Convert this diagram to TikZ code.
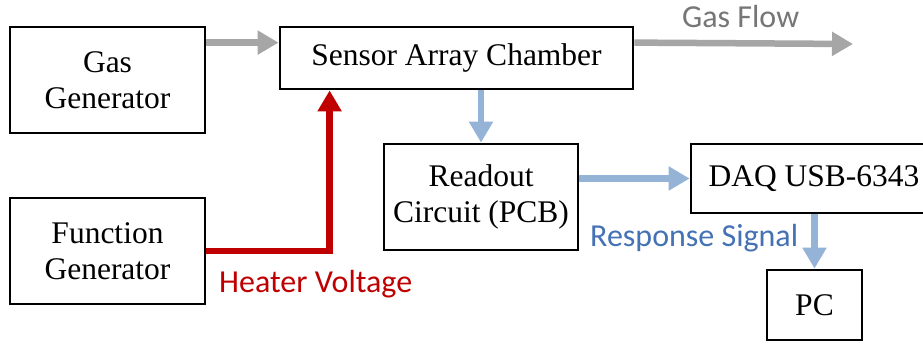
\documentclass[tikz,border=0pt]{standalone}
\usepackage{fontspec}
\setmainfont{Liberation Serif}
\newfontfamily\lblfont{Carlito}
\usetikzlibrary{arrows.meta}
\definecolor{flowgray}{HTML}{A6A6A6}
\definecolor{flowtext}{HTML}{767676}
\definecolor{sigblue}{HTML}{95B3D7}
\definecolor{sigtext}{HTML}{4472B4}
\definecolor{heatred}{HTML}{C00000}
\begin{document}
\begin{tikzpicture}[x=1pt,y=-1pt,
  box/.style={draw=black,line width=2.8pt,inner sep=0pt,align=center,
    font=\fontsize{31.5}{36}\selectfont},
  fat/.style={line width=6.5pt,-{Triangle[length=21pt,width=23pt]}},
  grayarrow/.style={fat,draw=flowgray},
  bluearrow/.style={fat,draw=sigblue},
  redarrow/.style={fat,draw=heatred,line join=miter},
  lbl/.style={anchor=base west,inner sep=0pt,font=\lblfont\fontsize{32}{36}\selectfont}]
\useasboundingbox[fill=white] (0,0) rectangle (923,343);
\node[box,minimum width=195pt,minimum height=106pt] (gas) at (107.5,80) {Gas\\Generator};
\node[box,minimum width=195pt,minimum height=106pt] (func) at (107.5,251) {Function\\Generator};
\node[box,minimum width=353pt,minimum height=62pt] (sensor) at (456.5,58) {Sensor Array Chamber};
\node[box,minimum width=194pt,minimum height=106pt] (readout) at (481,197) {Readout\\Circuit (PCB)};
\node[box,minimum width=246pt,minimum height=69pt] (daq) at (814,178.5) {DAQ USB-6343};
\node[box,minimum width=95pt,minimum height=70pt] (pc) at (814.5,305) {PC};
\coordinate (flowend) at (853,44);
\draw[grayarrow] ([yshift=-17pt]gas.north east) -- ([yshift=-17pt]sensor.north west);
\draw[grayarrow] ([yshift=-17pt]sensor.north east) -- (flowend);
\draw[redarrow] (func.east) -| ([xshift=51pt]sensor.south west);
\draw[bluearrow] (readout.north |- sensor.south) -- (readout.north);
\draw[bluearrow] (readout.east |- daq.west) -- (daq.west);
\draw[bluearrow] (pc.north |- daq.south) -- (pc.north);
\node[lbl,text=flowtext] (gfl) at (682,27) {Gas Flow};
\node[lbl,text=heatred] (hvl) at (219,292) {Heater Voltage};
\node[lbl,text=sigtext] (rsl) at (590,246) {Response Signal};
\end{tikzpicture}
\end{document}
